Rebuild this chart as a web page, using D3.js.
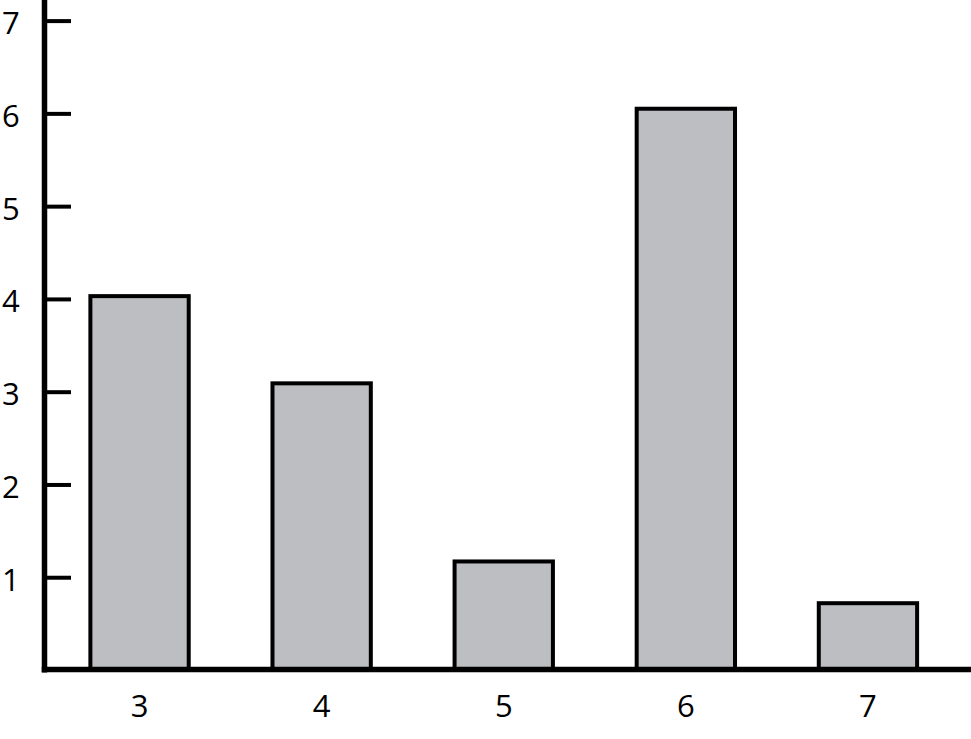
<!DOCTYPE html>
<html>
<head>
<meta charset="utf-8">
<script src="https://cdn.jsdelivr.net/npm/d3@7"></script>
<style>
  html, body { margin: 0; padding: 0; background: #fff; }
  svg { display: block; }
</style>
</head>
<body>
<svg id="chart" width="971" height="739"></svg>
<script>
const categories = ["3", "4", "5", "6", "7"];
const values = [4.03, 3.09, 1.17, 6.05, 0.72];
const yTicks = [1, 2, 3, 4, 5, 6, 7];

const W = 971, H = 739;
const svg = d3.select("#chart");
const font = "'Open Sans', 'DejaVu Sans', sans-serif";

const x = d3.scaleBand().domain(categories).range([48.5, 959]).paddingInner(0.46).paddingOuter(0.23);
const y = d3.scaleLinear().domain([0, 7]).range([670, 20.6]);

// bars
svg.append("g").selectAll("rect")
  .data(values)
  .join("rect")
  .attr("x", (d, i) => x(categories[i]))
  .attr("width", x.bandwidth())
  .attr("y", d => y(d))
  .attr("height", d => y(0) - y(d))
  .attr("fill", "#bdbec2")
  .attr("stroke", "#000")
  .attr("stroke-width", 4);

// y axis
const axisX = 44.5;
const yAxis = d3.axisLeft(y).tickValues(yTicks).tickSize(-26.5).tickFormat(d3.format("d"));
const gy = svg.append("g").attr("transform", `translate(${axisX},0)`).call(yAxis);
gy.select(".domain").remove();
gy.selectAll(".tick line").attr("stroke", "#000").attr("stroke-width", 4);
gy.selectAll(".tick text")
  .attr("x", 2 - axisX)
  .attr("dy", "0.42em")
  .attr("text-anchor", "start")
  .attr("fill", "#000")
  .style("font-family", font)
  .style("font-size", "31px");

// x axis
const xAxis = d3.axisBottom(x).tickSize(0).tickPadding(0);
const gx = svg.append("g").attr("transform", `translate(0,${y(0)})`).call(xAxis);
gx.select(".domain").remove();
gx.selectAll(".tick text")
  .attr("y", 47)
  .attr("dy", 0)
  .attr("fill", "#000")
  .style("font-family", font)
  .style("font-size", "31px");

// axis lines
svg.append("line")
  .attr("x1", axisX).attr("x2", axisX)
  .attr("y1", 0).attr("y2", y(0) + 2.5)
  .attr("stroke", "#000").attr("stroke-width", 5.5);
svg.append("line")
  .attr("x1", axisX - 2.75).attr("x2", W)
  .attr("y1", y(0) - 0.5).attr("y2", y(0) - 0.5)
  .attr("stroke", "#000").attr("stroke-width", 5.5);
</script>
</body>
</html>
